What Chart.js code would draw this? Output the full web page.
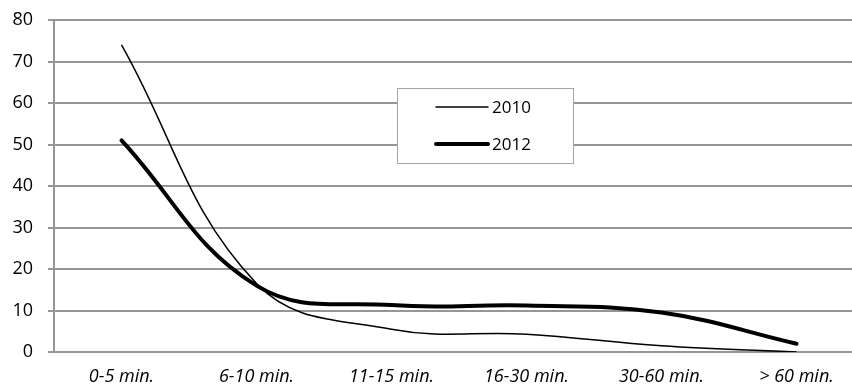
<!DOCTYPE html>
<html>
<head>
<meta charset="utf-8">
<script src="https://cdn.jsdelivr.net/npm/chart.js@4"></script>
<style>
  html, body { margin: 0; padding: 0; background: #fff; overflow: hidden; }
  #wrap { position: relative; width: 864px; height: 387px; }
</style>
</head>
<body>
<div id="wrap"><canvas id="chart"></canvas></div>
<script>
// data
const categories = ["0-5 min.", "6-10 min.", "11-15 min.", "16-30 min.", "30-60 min.", "> 60 min."];
const values_2010 = [74, 16.5, 5.5, 4.3, 1.5, 0];
const values_2012 = [51, 16, 11.3, 11.2, 9.5, 2];
const series_labels = ["2010", "2012"];

const grid_color = "#969696";
const font_family = "'Open Sans', 'Noto Sans', sans-serif";

// legend box drawn inside the plot, like the original
const boxLegend = {
  id: "boxLegend",
  afterDraw(chart) {
    const ctx = chart.ctx;
    const x = 397, y = 88, w = 176, h = 75;
    ctx.save();
    ctx.fillStyle = "#fff";
    ctx.fillRect(x, y, w, h);
    ctx.strokeStyle = "#a6a6a6";
    ctx.lineWidth = 1;
    ctx.strokeRect(x + 0.5, y + 0.5, w, h);
    chart.data.datasets.forEach((ds, i) => {
      const ly = y + 19 + i * 37;
      ctx.beginPath();
      ctx.strokeStyle = ds.borderColor;
      ctx.lineWidth = ds.borderWidth;
      ctx.lineCap = "round";
      ctx.moveTo(436, ly);
      ctx.lineTo(488, ly);
      ctx.stroke();
      ctx.fillStyle = "#000";
      ctx.font = "17px " + font_family;
      ctx.textBaseline = "middle";
      ctx.fillText(ds.label, 492, ly + 1);
    });
    ctx.restore();
  },
};

const ctx_chart = document.getElementById("chart").getContext("2d");
let chart = new Chart(ctx_chart, {
  type: "line",
  data: {
    labels: categories,
    datasets: [
      {
        label: series_labels[0],
        data: values_2010,
        borderColor: "#000",
        backgroundColor: "#000",
        borderWidth: 1.5,
        pointRadius: 0,
        tension: 0.4,
        fill: false,
      },
      {
        label: series_labels[1],
        data: values_2012,
        borderColor: "#000",
        backgroundColor: "#000",
        borderWidth: 4,
        pointRadius: 0,
        tension: 0.4,
        fill: false,
        borderCapStyle: "round",
      },
    ],
  },
  options: {
    responsive: true,
    maintainAspectRatio: false,
    animation: false,
    layout: { padding: { top: 20, right: 0, left: 0, bottom: 0 } },
    plugins: {
      legend: { display: false },
      tooltip: { enabled: false },
    },
    scales: {
      x: {
        type: "category",
        offset: true,
        grid: { display: false },
        border: { display: true, color: grid_color, width: 2 },
        ticks: {
          color: "#000",
          font: { family: font_family, size: 18, style: "italic" },
          maxRotation: 0,
          autoSkip: false,
          padding: 6,
        },
        afterFit(scale) { scale.height = 35; },
      },
      y: {
        min: 0,
        max: 80,
        ticks: {
          stepSize: 10,
          color: "#000",
          font: { family: font_family, size: 18 },
          padding: 15,
        },
        grid: { color: grid_color, lineWidth: 2, tickLength: 6 },
        border: { display: true, color: grid_color, width: 2 },
        afterFit(scale) {
          scale.width = 54;
          scale.paddingTop = 0;
        },
      },
    },
  },
  plugins: [boxLegend],
});
</script>
</body>
</html>
